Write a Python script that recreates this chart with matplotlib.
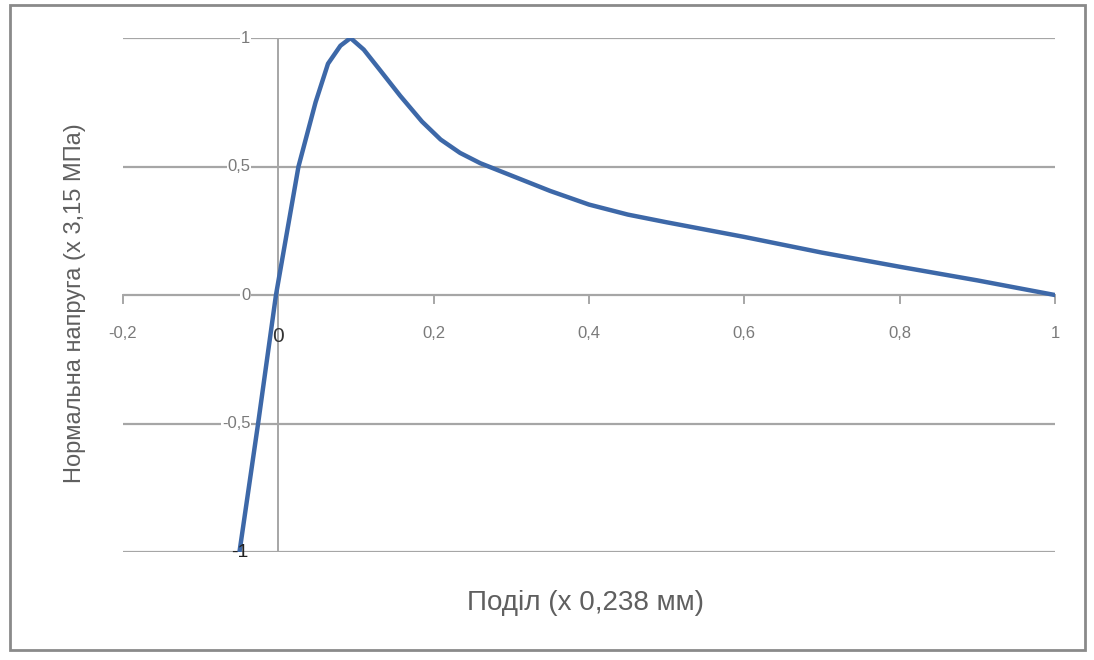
import matplotlib.pyplot as plt
from matplotlib.patches import Rectangle

plt.rcParams['font.family'] = ['Liberation Sans', 'DejaVu Sans']

# Curve (division vs normalised normal stress)
division = [-0.05, -0.026, -0.003, 0.026, 0.048, 0.064, 0.08, 0.093, 0.11, 0.131,
            0.157, 0.185, 0.209, 0.234, 0.26, 0.3, 0.35, 0.4, 0.45, 0.5,
            0.6, 0.7, 0.8, 0.9, 1.0]
stress = [-1.0, -0.5, 0.0, 0.5, 0.75, 0.9, 0.97, 1.0, 0.955, 0.875,
          0.775, 0.675, 0.605, 0.553, 0.513, 0.465, 0.405, 0.352, 0.313, 0.283,
          0.226, 0.165, 0.11, 0.057, 0.0]

x_ticks = [-0.2, 0.2, 0.4, 0.6, 0.8, 1.0]
x_tick_labels = ['-0,2', '0,2', '0,4', '0,6', '0,8', '1']
y_ticks = [1.0, 0.5, 0.0, -0.5]
y_tick_labels = ['1', '0,5', '0', '-0,5']

fig = plt.figure(figsize=(10.94, 6.6), dpi=100)
ax = fig.add_axes([0.1124, 0.1636, 0.8519, 0.7788])
ax.set_xlim(-0.2, 1.0)
ax.set_ylim(-1.0, 1.0)
ax.axis('off')

grid_col = '#a6a6a6'
for yv in [-1.0, -0.5, 0.0, 0.5, 1.0]:
    ax.axhline(yv, color=grid_col, lw=1.6, zorder=1)
ax.plot([0, 0], [-1, 1], color=grid_col, lw=1.4, zorder=1)

# tick marks on the x axis
for xv in x_ticks:
    ax.plot([xv, xv], [0, -0.03], color=grid_col, lw=1.4, zorder=1, clip_on=False)

# tick labels
lab_col = '#7a7a7a'
for xv, lab in zip(x_ticks, x_tick_labels):
    ax.text(xv, -0.148, lab, ha='center', va='center', fontsize=12, color=lab_col)
ax.text(0.0, -0.16, '0', ha='center', va='center', fontsize=15, color='#333333')
for yv, lab in zip(y_ticks, y_tick_labels):
    ax.text(-0.036, yv, lab, ha='right', va='center', fontsize=12, color=lab_col,
            bbox=dict(facecolor='white', edgecolor='none', pad=0.5), zorder=2)

ax.plot(division, stress, color='#3d68a8', lw=3.2, zorder=3,
        solid_capstyle='round', solid_joinstyle='round')
ax.text(-0.05, -1.0, '-1', ha='center', va='center', fontsize=14, color='#222222',
        zorder=4)

fig.text(0.535, 0.086, 'Поділ (x 0,238 мм)', ha='center', va='center',
         fontsize=20, color='#5f5f5f')
fig.text(0.069, 0.54, 'Нормальна напруга (x 3,15 МПа)', ha='center', va='center',
         rotation=90, fontsize=17, color='#5f5f5f')

# outer frame of the chart
fig.patches.append(Rectangle((0.009, 0.015), 0.983, 0.977, transform=fig.transFigure,
                             fill=False, edgecolor='#8a8a8a', lw=2))

fig.savefig('out.png', dpi=100)
